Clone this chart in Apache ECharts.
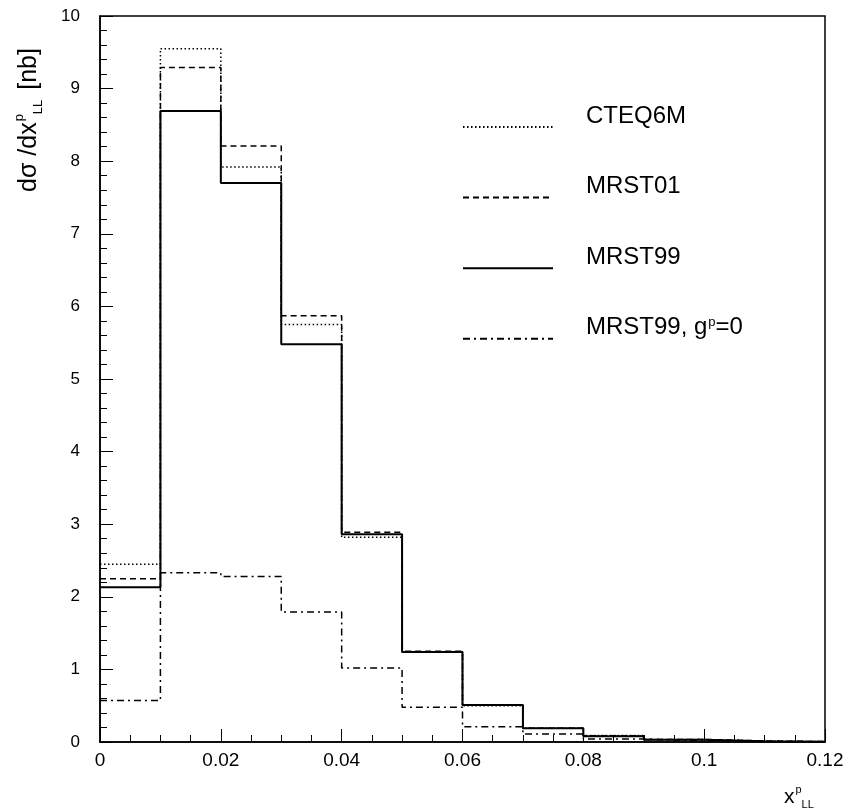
<!DOCTYPE html>
<html>
<head>
<meta charset="utf-8">
<script src="https://cdn.jsdelivr.net/npm/echarts@6/dist/echarts.min.js"></script>
<style>
    html, body { margin: 0; padding: 0; background: #fff; }
    #chart { width: 848px; height: 808px; }
</style>
</head>
<body>
<div id="chart"></div>
<script>
// bin edges (lower edge of every bin, plus the last upper edge)
var binEdges = [0, 0.01, 0.02, 0.03, 0.04, 0.05, 0.06, 0.07, 0.08, 0.09, 0.10, 0.11, 0.12];
// d sigma / dx per bin [nb]
var cteq6m  = [2.45, 9.55, 7.92, 5.75, 2.82, 1.24, 0.50, 0.19, 0.09, 0.035, 0.015, 0.005];
var mrst01  = [2.25, 9.29, 8.21, 5.87, 2.89, 1.25, 0.51, 0.19, 0.085, 0.035, 0.015, 0.005];
var mrst99  = [2.13, 8.69, 7.70, 5.48, 2.86, 1.24, 0.51, 0.19, 0.08, 0.03, 0.012, 0.004];
var mrst99g = [0.57, 2.33, 2.28, 1.79, 1.02, 0.48, 0.21, 0.11, 0.04, 0.015, 0.006, 0.002];

var FONT = 'Liberation Sans';

// histogram -> step line points (each value held until next edge)
function histo(vals) {
    var pts = [];
    for (var i = 0; i < vals.length; i++) {
        pts.push([binEdges[i], vals[i]]);
    }
    pts.push([binEdges[vals.length], vals[vals.length - 1]]);
    return pts;
}

function histSeries(name, vals, type, width) {
    return {
        name: name,
        type: 'line',
        step: 'end',
        symbol: 'none',
        data: histo(vals),
        lineStyle: { color: '#000', width: width, type: type },
        itemStyle: { color: '#000' }
    };
}

var myChart = echarts.init(document.getElementById('chart'));
var option = {
    backgroundColor: '#fff',
    animation: false,
    grid: {
        left: 100,
        right: 23,
        top: 16,
        bottom: 66,
        show: true,
        borderColor: '#000',
        borderWidth: 1.5
    },
    legend: {
        orient: 'vertical',
        left: 462,
        top: 104,
        padding: 0,
        itemWidth: 90,
        itemHeight: 14,
        itemGap: 42,
        itemStyle: { opacity: 0 },
        data: ['CTEQ6M', 'MRST01', 'MRST99', 'MRST99g0'],
        formatter: function (name) {
            if (name === 'MRST99g0') return '{t|MRST99, g}{s|p}{t|=0}';
            return '{t|' + name + '}';
        },
        textStyle: {
            fontFamily: FONT,
            fontSize: 24,
            color: '#000',
            padding: [0, 0, 22, 28],
            rich: {
                t: { fontFamily: FONT, fontSize: 24, color: '#000', lineHeight: 24 },
                s: { fontFamily: FONT, fontSize: 13, color: '#000', lineHeight: 24, verticalAlign: 'top', padding: [0, 0, 8, 1] }
            }
        }
    },
    xAxis: {
        type: 'value',
        min: 0,
        max: 0.12,
        interval: 0.02,
        axisLine: { show: true, onZero: false, lineStyle: { color: '#000', width: 1.5 } },
        axisTick: { show: true, inside: true, length: 13, lineStyle: { color: '#000', width: 1 } },
        minorTick: { show: true, splitNumber: 4, length: 7, lineStyle: { color: '#000', width: 1 } },
        splitLine: { show: false },
        axisLabel: {
            margin: 9,
            fontFamily: FONT,
            fontSize: 19,
            color: '#000',
            formatter: function (v) { return String(+v.toFixed(2)); }
        }
    },
    yAxis: {
        type: 'value',
        min: 0,
        max: 10,
        interval: 1,
        axisLine: { show: true, onZero: false, lineStyle: { color: '#000', width: 1.5 } },
        axisTick: { show: true, inside: true, length: 13, lineStyle: { color: '#000', width: 1 } },
        minorTick: { show: true, splitNumber: 5, length: 7, lineStyle: { color: '#000', width: 1 } },
        splitLine: { show: false },
        axisLabel: {
            margin: 20,
            fontFamily: FONT,
            fontSize: 17,
            color: '#000'
        }
    },
    graphic: [
        {
            type: 'text',
            x: 29,
            y: 192,
            rotation: Math.PI / 2,
            style: {
                text: '{a|dσ /dx}{s|p}{b|LL}{a| [nb]}',
                align: 'left',
                verticalAlign: 'middle',
                rich: {
                    a: { fontFamily: FONT, fontSize: 25, fill: '#000', lineHeight: 32 },
                    s: { fontFamily: FONT, fontSize: 13, fill: '#000', lineHeight: 32, verticalAlign: 'top', padding: [0, 0, 9, 1] },
                    b: { fontFamily: FONT, fontSize: 13, fill: '#000', lineHeight: 32, verticalAlign: 'bottom', padding: [6, 3, 0, 0] }
                }
            }
        },
        {
            type: 'text',
            x: 784,
            y: 797,
            style: {
                text: '{a|x}{s|p}{b|LL}',
                align: 'left',
                verticalAlign: 'middle',
                rich: {
                    a: { fontFamily: FONT, fontSize: 21, fill: '#000', lineHeight: 26 },
                    s: { fontFamily: FONT, fontSize: 11, fill: '#000', lineHeight: 26, verticalAlign: 'top', padding: [0, 0, 8, 1] },
                    b: { fontFamily: FONT, fontSize: 11, fill: '#000', lineHeight: 26, verticalAlign: 'bottom', padding: [6, 0, 0, 0] }
                }
            }
        }
    ],
    series: [
        histSeries('CTEQ6M', cteq6m, [1.5, 2.5], 1.5),
        histSeries('MRST01', mrst01, [6, 4], 1.5),
        histSeries('MRST99', mrst99, 'solid', 2),
        histSeries('MRST99g0', mrst99g, [7, 4, 2, 4], 1.5)
    ]
};
myChart.setOption(option);
window.addEventListener('resize', function () {
    myChart.resize();
});
</script>
</body>
</html>
